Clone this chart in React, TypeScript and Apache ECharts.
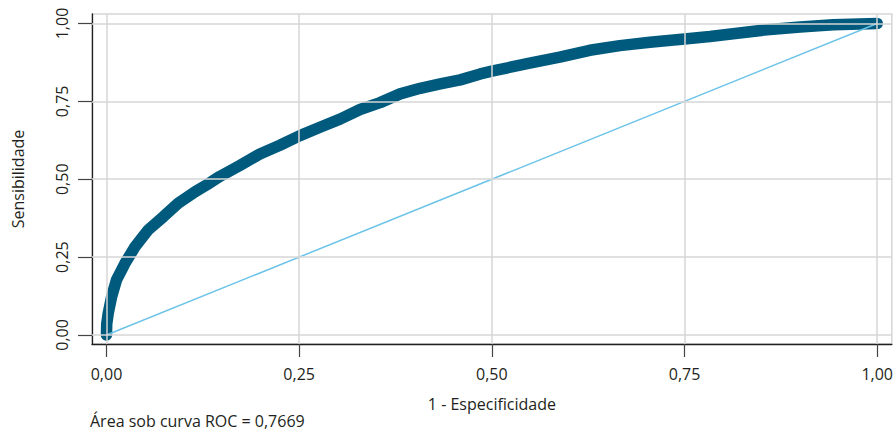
import React, { useEffect, useRef } from "react";
import * as echarts from "echarts";

const tickValues = [0, 0.25, 0.5, 0.75, 1];
const rocX = [0, 0.0003, 0.0023, 0.0067, 0.013, 0.024, 0.037, 0.054, 0.074, 0.093, 0.115, 0.13, 0.147, 0.173, 0.199, 0.225, 0.251, 0.277, 0.303, 0.329, 0.355, 0.381, 0.407, 0.433, 0.459, 0.485, 0.5, 0.549, 0.588, 0.627, 0.666, 0.705, 0.75, 0.783, 0.813, 0.857, 0.9, 0.943, 1.0];
const rocY = [0, 0.035, 0.07, 0.123, 0.177, 0.23, 0.283, 0.337, 0.38, 0.423, 0.46, 0.482, 0.509, 0.544, 0.581, 0.609, 0.64, 0.667, 0.693, 0.724, 0.746, 0.774, 0.792, 0.806, 0.819, 0.838, 0.847, 0.873, 0.892, 0.914, 0.929, 0.94, 0.95, 0.958, 0.967, 0.98, 0.989, 0.996, 1.0];
const diagonalX = [0, 1];
const diagonalY = [0, 1];
const xTitle = "1 - Especificidade";
const yTitle = "Sensibilidade";
const note = "Área sob curva ROC = 0,7669";

const FONT = "Open Sans";
const TEXT = "#231f20";
const GRIDC = "#d6d6d6";

const fmt = (v: number) => v.toFixed(2).replace(".", ",");

export default function App() {
  const ref = useRef<HTMLDivElement>(null);
  useEffect(() => {
    if (!ref.current) return;
    const chart = echarts.init(ref.current, null, { renderer: "svg" });
    const gridLines = [
      ...tickValues.map((v) => ({ xAxis: v })),
      ...tickValues.map((v) => ({ yAxis: v })),
    ];
    chart.setOption({
      animation: false,
      backgroundColor: "#ffffff",
      grid: {
        left: 92,
        right: 4,
        top: 14,
        bottom: 89,
        show: true,
        borderColor: GRIDC,
        borderWidth: 1.5,
        backgroundColor: "transparent",
      },
      xAxis: {
        type: "value",
        min: -0.0188,
        max: 1.019,
        name: xTitle,
        nameLocation: "middle",
        nameGap: 52,
        nameTextStyle: { fontFamily: FONT, fontSize: 16, color: TEXT },
        axisLine: { show: true, onZero: false, lineStyle: { color: TEXT, width: 1.3 } },
        axisTick: { show: true, length: 13, customValues: tickValues, lineStyle: { color: "#444", width: 1.2 } },
        axisLabel: {
          customValues: tickValues,
          formatter: fmt,
          margin: 22,
          fontFamily: FONT,
          fontSize: 16,
          color: TEXT,
        },
        splitLine: { show: false },
      },
      yAxis: {
        type: "value",
        min: -0.029,
        max: 1.0305,
        name: yTitle,
        nameLocation: "middle",
        nameGap: 66,
        nameTextStyle: { fontFamily: FONT, fontSize: 16, color: TEXT },
        axisLine: { show: true, onZero: false, lineStyle: { color: TEXT, width: 1.3 } },
        axisTick: { show: true, length: 14, customValues: tickValues, lineStyle: { color: "#444", width: 1.2 } },
        axisLabel: {
          customValues: tickValues,
          formatter: fmt,
          rotate: 90,
          margin: 22,
          fontFamily: FONT,
          fontSize: 16,
          color: TEXT,
        },
        splitLine: { show: false },
      },
      graphic: [
        {
          type: "text",
          left: 90,
          top: 413,
          style: { text: note, fontFamily: FONT, fontSize: 16, fill: TEXT },
        },
      ],
      series: [
        {
          type: "line",
          data: [],
          silent: true,
          markLine: {
            silent: true,
            symbol: "none",
            label: { show: false },
            lineStyle: { color: GRIDC, width: 1.5, type: "solid" },
            data: gridLines,
          },
        },
        {
          type: "line",
          data: rocX.map((x, i) => [x, rocY[i]]),
          showSymbol: false,
          smooth: false,
          lineStyle: { color: "#005a7d", width: 11.5, cap: "round", join: "round" },
        },
        {
          type: "line",
          data: diagonalX.map((x, i) => [x, diagonalY[i]]),
          showSymbol: false,
          lineStyle: { color: "#6cc3e8", width: 1.5 },
        },
      ],
    });
    return () => chart.dispose();
  }, []);
  return <div ref={ref} style={{ position: "fixed", left: 0, top: 0, width: 896, height: 433 }} />;
}
